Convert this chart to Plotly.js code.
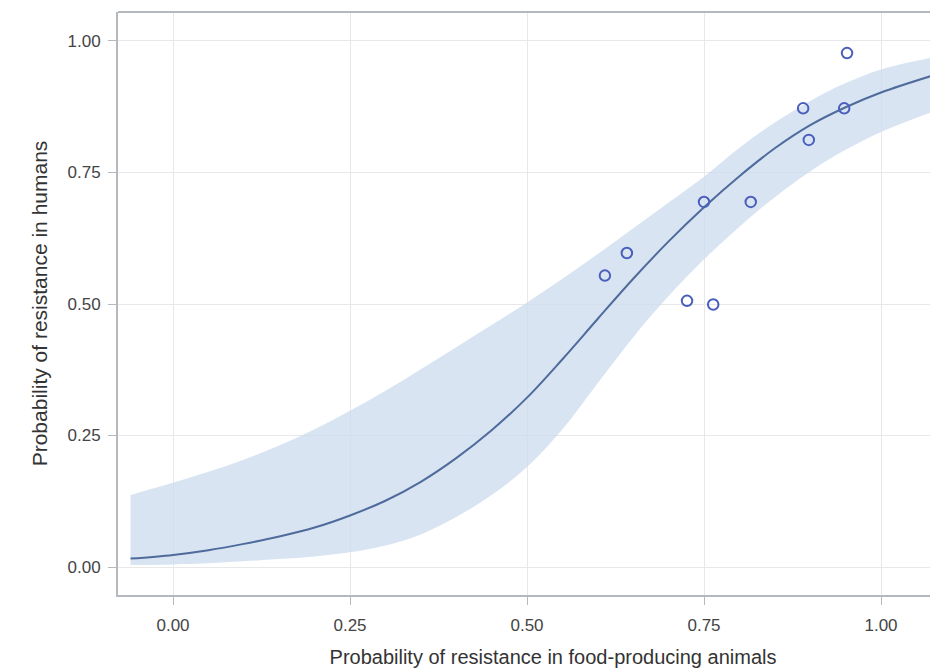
<!DOCTYPE html>
<html>
<head>
<meta charset="utf-8">
<script src="https://cdn.plot.ly/plotly-3.0.1.min.js"></script>
<style>html,body{margin:0;padding:0;background:#fff;overflow:hidden;width:930px;height:669px;}#chart{width:988px;height:669px;}</style>
</head>
<body>
<div id="chart"></div>
<script>
// Fitted curve and confidence band
var gridX  = [-0.06, 0, 0.05, 0.1, 0.15, 0.2, 0.25, 0.3, 0.35, 0.4, 0.45, 0.5, 0.55, 0.6, 0.65, 0.7, 0.75, 0.8, 0.85, 0.9, 0.95, 1.0, 1.07];
var fitY   = [0.016, 0.023, 0.032, 0.044, 0.058, 0.075, 0.098, 0.126, 0.162, 0.207, 0.260, 0.322, 0.395, 0.472, 0.548, 0.619, 0.684, 0.743, 0.796, 0.840, 0.874, 0.902, 0.933];
var upperY = [0.137, 0.160, 0.181, 0.204, 0.231, 0.262, 0.297, 0.335, 0.376, 0.418, 0.460, 0.503, 0.548, 0.595, 0.644, 0.693, 0.742, 0.797, 0.845, 0.886, 0.920, 0.946, 0.968];
var lowerY = [0.004, 0.005, 0.007, 0.011, 0.015, 0.020, 0.028, 0.041, 0.062, 0.095, 0.137, 0.190, 0.262, 0.350, 0.437, 0.515, 0.585, 0.647, 0.703, 0.752, 0.793, 0.827, 0.864];
// Observed points
var obsX = [0.610, 0.641, 0.726, 0.763, 0.750, 0.816, 0.890, 0.898, 0.948, 0.952];
var obsY = [0.554, 0.597, 0.506, 0.499, 0.694, 0.694, 0.872, 0.812, 0.872, 0.977];
var xTicks = [0, 0.25, 0.5, 0.75, 1.0];
var xTickText = ["0.00", "0.25", "0.50", "0.75", "1.00"];
var yTicks = [0, 0.25, 0.5, 0.75, 1.0];
var yTickText = ["0.00", "0.25", "0.50", "0.75", "1.00"];

var traces = [
  {x: gridX, y: lowerY, type: 'scatter', mode: 'lines', line: {width: 0, shape: 'spline'}, hoverinfo: 'skip', showlegend: false},
  {x: gridX, y: upperY, type: 'scatter', mode: 'lines', line: {width: 0, shape: 'spline'}, fill: 'tonexty', fillcolor: 'rgba(205,220,238,0.78)', hoverinfo: 'skip', showlegend: false},
  {x: gridX, y: fitY, type: 'scatter', mode: 'lines', line: {color: '#4e6b9c', width: 2, shape: 'spline'}, showlegend: false},
  {x: obsX, y: obsY, type: 'scatter', mode: 'markers', marker: {symbol: 'circle-open', size: 10.5, color: '#4a5fbd', line: {width: 2, color: '#4a5fbd'}}, showlegend: false}
];

// The reference is cropped on the right: the full plot is wider than the window.
var layout = {
  width: 988, height: 669,
  margin: {l: 118, r: 0, t: 12, b: 74},
  paper_bgcolor: '#fff', plot_bgcolor: '#fff',
  font: {family: 'Liberation Sans, Arial, sans-serif', color: '#444'},
  showlegend: false,
  xaxis: {
    range: [-0.0777, 1.1511], tickvals: xTicks, ticktext: xTickText,
    showgrid: true, gridcolor: '#e8e8e8', gridwidth: 1, zeroline: false,
    showline: true, linecolor: '#b5b8bc', linewidth: 2,
    ticks: 'outside', ticklen: 8, tickcolor: '#b5b8bc', tickwidth: 1,
    ticklabelstandoff: 6,
    tickfont: {size: 17, color: '#444'},
    title: {text: 'Probability of resistance in food-producing animals', font: {size: 20, color: '#333'}, standoff: 16}
  },
  yaxis: {
    range: [-0.0532, 1.0551], tickvals: yTicks, ticktext: yTickText,
    showgrid: true, gridcolor: '#e8e8e8', gridwidth: 1, zeroline: false,
    showline: true, linecolor: '#b5b8bc', linewidth: 2,
    ticks: 'outside', ticklen: 8, tickcolor: '#b5b8bc', tickwidth: 1,
    ticklabelstandoff: 4,
    tickfont: {size: 17, color: '#444'},
    title: {text: 'Probability of resistance in humans', font: {size: 21, color: '#333'}, standoff: 14}
  },
  shapes: [
    {type: 'line', xref: 'paper', yref: 'paper', x0: 0, x1: 1, y0: 1, y1: 1, line: {color: '#b5b8bc', width: 2}}
  ]
};

Plotly.newPlot('chart', traces, layout, {displayModeBar: false, staticPlot: true});
</script>
</body>
</html>
